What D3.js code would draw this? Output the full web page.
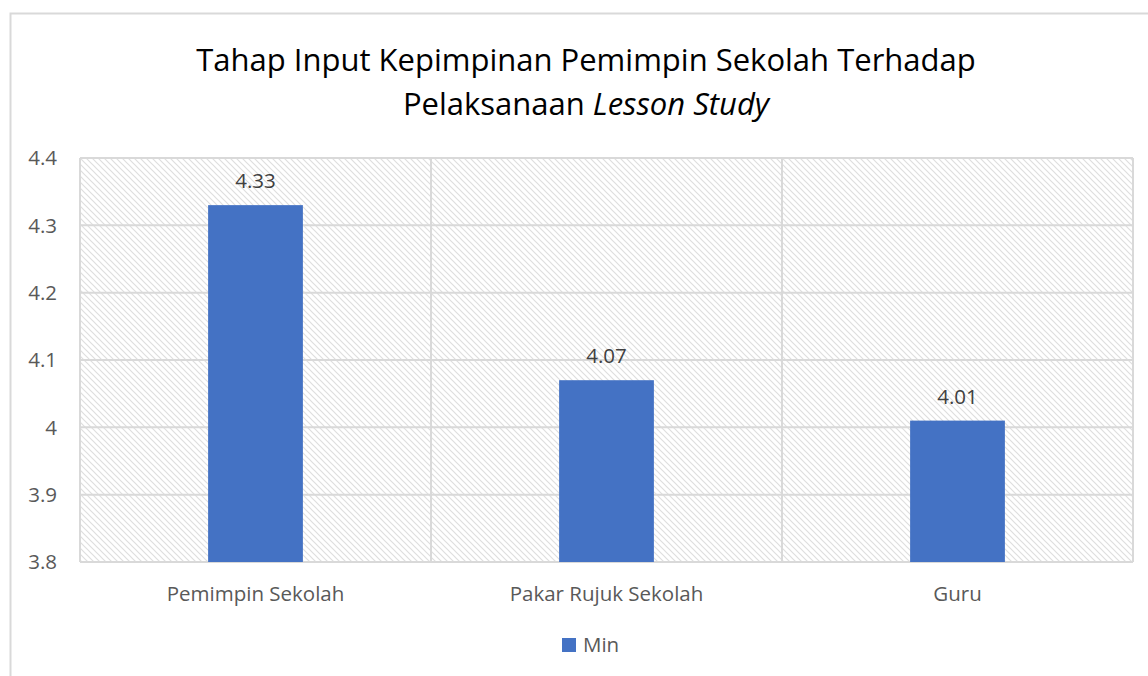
<!DOCTYPE html>
<html>
<head>
<meta charset="utf-8">
<script src="https://cdn.jsdelivr.net/npm/d3@7"></script>
<style>
  body { margin: 0; background: #fff; }
  text { font-family: "Open Sans", sans-serif; }
</style>
</head>
<body>
<div id="chart"></div>
<script>
var categories = ["Pemimpin Sekolah", "Pakar Rujuk Sekolah", "Guru"]
var values = [4.33, 4.07, 4.01]
var yTicks = [3.8, 3.9, 4.0, 4.1, 4.2, 4.3, 4.4]
var seriesName = "Min"

var W = 1148, H = 676
var margin = {top: 158, right: 15, bottom: 114, left: 80}
var width = W - margin.left - margin.right
var height = H - margin.top - margin.bottom

var svg = d3.select("#chart").append("svg")
  .attr("width", W).attr("height", H)

// hatch pattern for the plot area
var defs = svg.append("defs")
var pat = defs.append("pattern")
  .attr("id", "hatch")
  .attr("patternUnits", "userSpaceOnUse")
  .attr("width", 6).attr("height", 6)
pat.append("path")
  .attr("d", "M-1,-1 L7,7 M-1,5 L1,7 M5,-1 L7,1")
  .attr("stroke", "#dedede")
  .attr("stroke-width", 1.2)

// outer chart border
svg.append("path")
  .attr("d", "M10.5,676 L10.5,13.5 L1148,13.5")
  .attr("fill", "none")
  .attr("stroke", "#d9d9d9")
  .attr("stroke-width", 2)

var g = svg.append("g")
  .attr("transform", "translate(" + margin.left + "," + margin.top + ")")

var x = d3.scaleBand()
  .domain(categories)
  .range([0, width])
  .paddingInner(0).paddingOuter(0)

var y = d3.scaleLinear()
  .domain([3.8, 4.4])
  .range([height, 0])

g.append("rect")
  .attr("width", width).attr("height", height)
  .attr("fill", "url(#hatch)")

// horizontal grid
g.append("g")
  .selectAll("line")
  .data(yTicks)
  .join("line")
    .attr("x1", 0).attr("x2", width)
    .attr("y1", d => y(d)).attr("y2", d => y(d))
    .attr("stroke", "#d9d9d9")
    .attr("stroke-width", 2)

// vertical grid at category edges
g.append("g")
  .selectAll("line")
  .data(d3.range(categories.length + 1))
  .join("line")
    .attr("x1", i => i * x.step()).attr("x2", i => i * x.step())
    .attr("y1", 0).attr("y2", height)
    .attr("stroke", "#d9d9d9")
    .attr("stroke-width", 2)

var barW = x.bandwidth() * 0.27

g.selectAll(".bar")
  .data(values)
  .join("rect")
    .attr("class", "bar")
    .attr("x", (d, i) => x(categories[i]) + x.bandwidth() / 2 - barW / 2)
    .attr("y", d => y(d))
    .attr("width", barW)
    .attr("height", d => height - y(d))
    .attr("fill", "#4472c4")

g.selectAll(".lbl")
  .data(values)
  .join("text")
    .attr("class", "lbl")
    .attr("x", (d, i) => x(categories[i]) + x.bandwidth() / 2)
    .attr("y", d => y(d) - 17)
    .attr("text-anchor", "middle")
    .style("font-size", "20.5px")
    .attr("fill", "#404040")
    .text(d => d.toFixed(2))

// y axis labels
g.selectAll(".ytick")
  .data(yTicks)
  .join("text")
    .attr("class", "ytick")
    .attr("x", -23)
    .attr("y", d => y(d))
    .attr("dy", "0.35em")
    .attr("text-anchor", "end")
    .style("font-size", "20.5px")
    .attr("fill", "#595959")
    .text(d => d3.format("~g")(d))

// x axis labels
g.selectAll(".xtick")
  .data(categories)
  .join("text")
    .attr("class", "xtick")
    .attr("x", d => x(d) + x.bandwidth() / 2)
    .attr("y", height + 39)
    .attr("text-anchor", "middle")
    .style("font-size", "20.5px")
    .attr("fill", "#595959")
    .text(d => d)

// title
var title = svg.append("text")
  .attr("x", 586)
  .attr("text-anchor", "middle")
  .style("font-size", "31px")
  .attr("fill", "#000")
title.append("tspan").attr("x", 586).attr("y", 71)
  .text("Tahap Input Kepimpinan Pemimpin Sekolah Terhadap")
var t2 = title.append("tspan").attr("x", 586).attr("y", 115)
t2.append("tspan").text("Pelaksanaan ")
t2.append("tspan").style("font-style", "italic").text("Lesson Study")

// legend
svg.append("rect")
  .attr("x", 562).attr("y", 638)
  .attr("width", 14).attr("height", 14)
  .attr("fill", "#4472c4")
svg.append("text")
  .attr("x", 583).attr("y", 645)
  .attr("dy", "0.35em")
  .style("font-size", "20.5px")
  .attr("fill", "#595959")
  .text(seriesName)
</script>
</body>
</html>
